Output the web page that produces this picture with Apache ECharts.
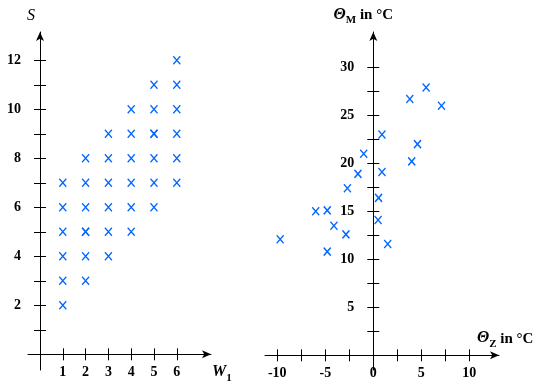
<!DOCTYPE html>
<html>
<head>
<meta charset="utf-8">
<script src="https://cdn.jsdelivr.net/npm/echarts@6/dist/echarts.min.js"></script>
<style>
html,body{margin:0;padding:0;background:#fff;}
#c{width:540px;height:385px;}
</style>
</head>
<body>
<div id="c"></div>
<script>
// Left chart: W1 vs S
var w1Values = [1,1,1,1,1,1, 2,2,2,2,2,2,2, 3,3,3,3,3,3, 4,4,4,4,4,4, 5,5,5,5,5,5,5, 6,6,6,6,6,6];
var sValues  = [2,3,4,5,6,7, 3,4,5,5,6,7,8, 4,5,6,7,8,9, 5,6,7,8,9,10, 6,7,8,9,9,10,11, 7,8,9,10,11,12];
var leftXTicks = [1,2,3,4,5,6];
var leftXLabels = [1,2,3,4,5,6];
var leftYTicks = [1,2,3,4,5,6,7,8,9,10,11,12];
var leftYLabels = [2,4,6,8,10,12];

// Right chart: ThetaZ vs ThetaM
var thetaZ = [-9.7, -6.0, -4.8, -4.1, -4.8, -2.85, -2.7, -1.6, -1.0, 0.5, 0.55, 0.9, 0.9, 1.5, 4.0, 4.6, 3.8, 5.5, 7.1];
var thetaM = [12.1, 15.0, 15.1, 13.5, 10.8, 12.6, 17.4, 18.9, 21.0, 14.1, 16.4, 19.1, 23.0, 11.6, 20.2, 22.0, 26.7, 27.9, 26.0];
var rightXTicks = [-10,-7.5,-5,-2.5,2.5,5,7.5,10];
var rightXLabels = [-10,-5,0,5,10];
var rightYTicks = [2.5,5,7.5,10,12.5,15,17.5,20,22.5,25,27.5,30];
var rightYLabels = [5,10,15,20,25,30];

var FONT = '"Liberation Serif","Times New Roman",serif';
var BLUE = '#0066ff';
var lineStyle = {color:'#000', width:1};
var labelStyle = {color:'#000', fontFamily:FONT, fontWeight:'bold', fontSize:14};

function pairs(a,b){ return a.map(function(v,i){ return [v,b[i]]; }); }

// Axis ranges and plot boxes
var L = {left:28, top:32, width:183, height:338, xMin:-0.526, xMax:7.5, yMin:-0.64, yMax:13.155};
var R = {left:265, top:32, width:234, height:338, xMin:-11.28, xMax:13.09, yMin:-1.53, yMax:33.68};
function zeroX(g){ return g.left + (0 - g.xMin) / (g.xMax - g.xMin) * g.width; }
function zeroY(g){ return g.top + (g.yMax - 0) / (g.yMax - g.yMin) * g.height; }

function lineAxes(dim, g, ticks, zeroIdx, gridIndex, nameOpts){
  var min = dim==='x' ? g.xMin : g.yMin, max = dim==='x' ? g.xMax : g.yMax;
  var base = {type:'value', gridIndex:gridIndex, min:min, max:max, splitLine:{show:false},
              position: dim==='x' ? 'bottom' : 'left', nameMoveOverlap:false};
  var a1 = Object.assign({}, base, {
    axisLine:{show:true, onZero:true, onZeroAxisIndex:zeroIdx, lineStyle:lineStyle,
      symbol:['none','arrow'], symbolSize:[6,9]},
    axisTick:{show:true, inside:false, length:6, customValues:ticks, lineStyle:lineStyle},
    axisLabel:{show:false},
    nameLocation:'end'
  }, nameOpts);
  var a2 = Object.assign({}, base, {
    axisLine:{show:false, onZero:true, onZeroAxisIndex:zeroIdx},
    axisTick:{show:true, inside:true, length:6, customValues:ticks, lineStyle:lineStyle},
    axisLabel:{show:false}
  });
  return [a1, a2];
}
function labelAxis(dim, min, max, labels, gridIndex){
  return {type:'value', gridIndex:gridIndex, min:min, max:max, splitLine:{show:false},
    position: dim==='x' ? 'bottom' : 'left',
    axisLine:{show:false, onZero:false}, axisTick:{show:false},
    axisLabel:Object.assign({show:true, customValues:labels, margin: dim==='x' ? 11 : 19}, labelStyle)};
}
function dummyAxis(gridIndex){
  return {type:'value', gridIndex:gridIndex, min:0, max:1, show:false,
    axisLine:{show:false, onZero:false}, axisTick:{show:false}, axisLabel:{show:false}, splitLine:{show:false}};
}

var subRich = function(big){
  return {
    t:{fontFamily:FONT, fontStyle:'italic', fontWeight:'bold', fontSize:big, color:'#000', verticalAlign:'bottom'},
    s:{fontFamily:FONT, fontWeight:'bold', fontSize:11, color:'#000', verticalAlign:'bottom', padding:[0,0,-3,0]},
    n:{fontFamily:FONT, fontWeight:'bold', fontSize:15, color:'#000', verticalAlign:'bottom'}
  };
};

var leftX = lineAxes('x', L, leftXTicks, 0, 0, {
  name:'{t|W}{s|1}', nameGap:1,
  nameTextStyle:{color:'#000', verticalAlign:'top', padding:[10,0,0,0], rich:subRich(16)}
});
var leftY = lineAxes('y', L, leftYTicks, 0, 0, {
  name:'S', nameGap:8,
  nameTextStyle:{color:'#000', fontFamily:FONT, fontStyle:'italic', fontSize:16, align:'right', padding:[0,5,0,0]}
});
var rightX = lineAxes('x', R, rightXTicks, 2, 1, {
  name:'{t|Θ}{s|Z}{n| in °C}', nameGap:-22,
  nameTextStyle:{color:'#000', verticalAlign:'bottom', align:'left', padding:[0,0,9,0], rich:subRich(16)}
});
var rightY = lineAxes('y', R, rightYTicks, 2, 1, {
  name:'{t|Θ}{s|M}{n| in °C}', nameGap:9,
  nameTextStyle:{color:'#000', align:'center', padding:[0,20,0,0], rich:subRich(16)}
});

var markerSeries = function(data, xi, yi){
  return {
    type:'scatter', xAxisIndex:xi, yAxisIndex:yi, data:data,
    symbol:'path://M0,0L10,11M10,0L0,11', symbolSize:[7,8],
    itemStyle:{color:'rgba(0,0,0,0)', borderColor:BLUE, borderWidth:1.4, opacity:1},
    emphasis:{disabled:true}, silent:true, animation:false
  };
};

var lz = {x:zeroX(L), y:zeroY(L)}, rz = {x:zeroX(R), y:zeroY(R)};

var chart = echarts.init(document.getElementById('c'), null, {renderer:'canvas'});
chart.setOption({
  backgroundColor:'#fff',
  animation:false,
  grid:[
    {left:L.left, top:L.top, width:L.width, height:L.height, outerBoundsMode:'none'},
    {left:R.left, top:R.top, width:R.width, height:R.height, outerBoundsMode:'none'},
    // label boxes: edges on the zero lines
    {left:L.left, top:L.top, width:L.width, height:lz.y - L.top, outerBoundsMode:'none'},
    {left:lz.x, top:L.top, width:L.left + L.width - lz.x, height:L.height, outerBoundsMode:'none'},
    {left:R.left, top:R.top, width:R.width, height:rz.y - R.top, outerBoundsMode:'none'},
    {left:rz.x, top:R.top, width:R.left + R.width - rz.x, height:R.height, outerBoundsMode:'none'}
  ],
  xAxis:[leftX[0], leftX[1], rightX[0], rightX[1],
    labelAxis('x', L.xMin, L.xMax, leftXLabels, 2), dummyAxis(3),
    labelAxis('x', R.xMin, R.xMax, rightXLabels, 4), dummyAxis(5)],
  yAxis:[leftY[0], leftY[1], rightY[0], rightY[1],
    dummyAxis(2), labelAxis('y', L.yMin, L.yMax, leftYLabels, 3),
    dummyAxis(4), labelAxis('y', R.yMin, R.yMax, rightYLabels, 5)],
  series:[
    markerSeries(pairs(w1Values, sValues), 0, 0),
    markerSeries(pairs(thetaZ, thetaM), 2, 2)
  ]
});
</script>
</body>
</html>
